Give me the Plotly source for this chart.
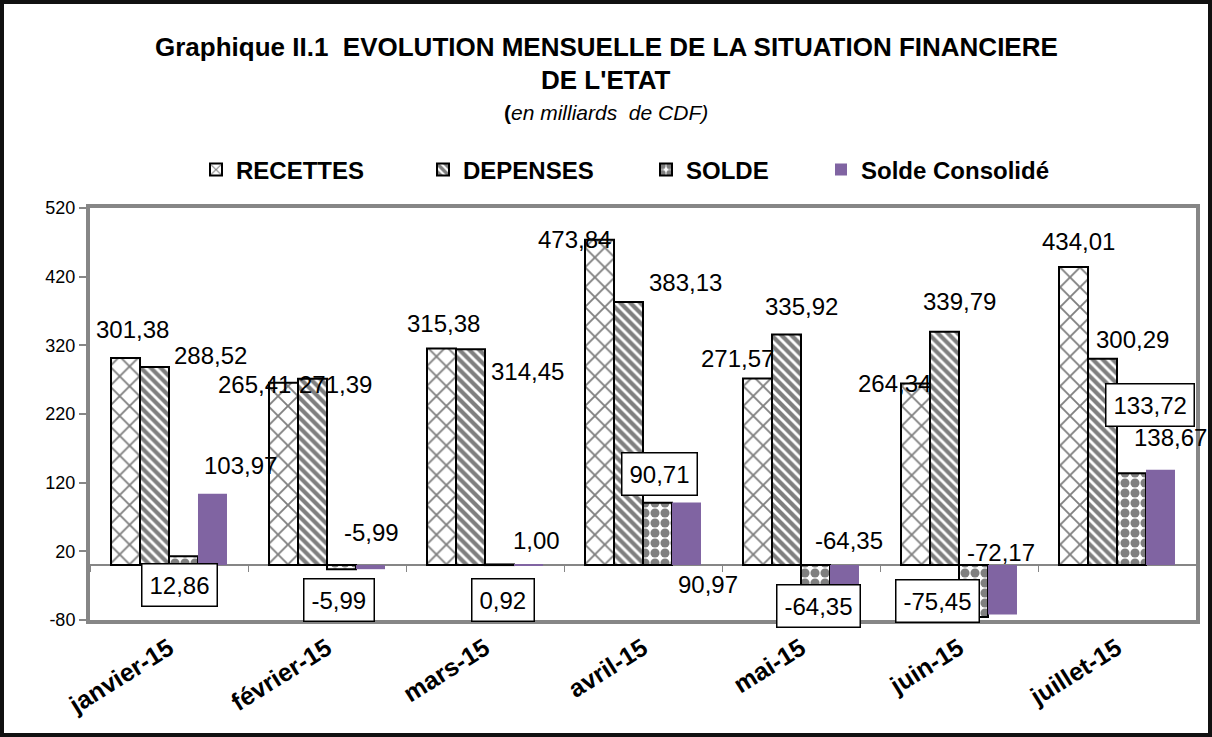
import plotly.graph_objects as go

# data (milliards de CDF)
MOIS = ["janvier-15", "février-15", "mars-15", "avril-15", "mai-15", "juin-15", "juillet-15"]
RECETTES = [301.38, 265.41, 315.38, 473.84, 271.57, 264.34, 434.01]
DEPENSES = [288.52, 271.39, 314.45, 383.13, 335.92, 339.79, 300.29]
SOLDE = [12.86, -5.99, 0.92, 90.71, -64.35, -75.45, 133.72]
SOLDE_CONSO = [103.97, -5.99, 1.00, 90.97, -64.35, -72.17, 138.67]

Y_TICKS = [-80, 20, 120, 220, 320, 420, 520]
Y_TICK_LABELS = ["-80", "20", "120", "220", "320", "420", "520"]

W, H = 1212, 737
M = {"l": 90, "r": 16, "t": 208, "b": 117}
PLOT_W = W - M["l"] - M["r"]
PLOT_H = H - M["t"] - M["b"]

FONT = "Liberation Sans, Arial, sans-serif"
GRAY = "#868686"
PURPLE = "#8064A2"

# label placement: (bar slot offset in px from category centre, dx, dy) -- Excel moved these by hand
SLOT = {"rec": -43, "dep": -14.5, "sol": 14.5, "con": 43}
REC_OFF = [(6, 29), (-30, -2), (1, 25), (-26, 0), (-21, 20), (-22, 0), (4, 26)]
DEP_OFF = [(56, 11), (23, -6), (57, -22), (57, 19), (15, 28), (15, 30), (30, 19)]
SOL_OFF = [(-4, -29), (-3, -31), (3, -36), (2, 29), (3, 3), (-36, 16), (18, 68)]
CON_OFF = [(28, 28), (1, 37), (8, 24), (22, -82), (5, 69), (-1, 62), (10, 32)]


def fr(v):
    return f"{v:.2f}".replace(".", ",")


def px_x(px):
    return (px - M["l"]) / PLOT_W


def px_y(py):
    return (H - M["b"] - py) / PLOT_H


fig = go.Figure()

line_blk = {"color": "black", "width": 2}
fig.add_trace(go.Bar(
    x=MOIS, y=RECETTES, name="RECETTES", legend="legend",
    marker={"color": "white", "line": line_blk,
            "pattern": {"shape": "x", "size": 14, "solidity": 0.25,
                        "fgcolor": "black", "bgcolor": "white"}},
))
fig.add_trace(go.Bar(
    x=MOIS, y=DEPENSES, name="DEPENSES", legend="legend2",
    marker={"color": "white", "line": line_blk,
            "pattern": {"shape": "\\", "size": 7, "solidity": 0.6,
                        "fgcolor": "black", "bgcolor": "white"}},
))
fig.add_trace(go.Bar(
    x=MOIS, y=SOLDE, name="SOLDE", legend="legend3",
    marker={"color": "white", "line": line_blk,
            "pattern": {"shape": ".", "size": 10, "solidity": 0.65,
                        "fgcolor": "black", "bgcolor": "white"}},
))
fig.add_trace(go.Bar(
    x=MOIS, y=SOLDE_CONSO, name="Solde Consolidé", legend="legend4",
    marker={"color": PURPLE, "line": {"width": 0}},
))

# invisible helper so the zero-line axis gets the categories
fig.add_trace(go.Scatter(
    x=MOIS, y=SOLDE, xaxis="x2", mode="markers", marker={"opacity": 0},
    showlegend=False, hoverinfo="skip",
))

lbl_font = {"family": FONT, "size": 24, "color": "black"}
for key, vals, offs in [("rec", RECETTES, REC_OFF), ("dep", DEPENSES, DEP_OFF),
                        ("con", SOLDE_CONSO, CON_OFF)]:
    for m, v, (dx, dy) in zip(MOIS, vals, offs):
        fig.add_annotation(x=m, y=v, text=fr(v), showarrow=False, yanchor="middle",
                           xshift=SLOT[key] + dx, yshift=dy, font=lbl_font)
for m, v, (dx, dy) in zip(MOIS, SOLDE, SOL_OFF):
    fig.add_annotation(x=m, y=v, text=fr(v), showarrow=False, yanchor="middle",
                       xshift=SLOT["sol"] + dx, yshift=dy, font=lbl_font,
                       bgcolor="white", bordercolor="black", borderwidth=1.5,
                       borderpad=7)

# title
title_x = px_x(606)
title_font = {"family": FONT, "size": 26, "color": "black"}
fig.add_annotation(xref="paper", yref="paper", x=title_x, y=px_y(47), yanchor="middle",
                   text="<b>Graphique II.1  EVOLUTION MENSUELLE DE LA SITUATION FINANCIERE</b>",
                   showarrow=False, font=title_font)
fig.add_annotation(xref="paper", yref="paper", x=title_x, y=px_y(80), yanchor="middle",
                   text="<b>DE L'ETAT</b>", showarrow=False, font=title_font)
fig.add_annotation(xref="paper", yref="paper", x=title_x, y=px_y(112), yanchor="middle",
                   text="<b>(</b><i>en milliards  de CDF)</i>",
                   showarrow=False, font={"family": FONT, "size": 21, "color": "black"})

# outer black frame
inset = 2
fig.add_shape(type="rect", xref="paper", yref="paper", layer="above",
              x0=px_x(inset), x1=px_x(W - inset), y0=px_y(H - inset), y1=px_y(inset),
              line={"color": "#111", "width": 4})

leg_font = {"family": FONT, "size": 24, "color": "black", "weight": "bold"}
leg = {"orientation": "h", "yanchor": "middle", "y": px_y(170), "xanchor": "left",
       "font": leg_font, "bgcolor": "rgba(0,0,0,0)", "itemwidth": 30}

cat_range = [-0.5, len(MOIS) - 0.5]

fig.update_layout(
    width=W, height=H, margin=M,
    paper_bgcolor="white", plot_bgcolor="white",
    font={"family": FONT, "color": "black"},
    barmode="group", bargap=0.266, bargroupgap=0,
    legend={**leg, "x": px_x(196)},
    legend2={**leg, "x": px_x(423)},
    legend3={**leg, "x": px_x(646)},
    legend4={**leg, "x": px_x(821)},
    xaxis={
        "type": "category", "range": cat_range,
        "showline": True, "mirror": True, "linecolor": GRAY,
        "linewidth": 4, "ticks": "", "tickangle": -32,
        "tickfont": {"family": FONT, "size": 25, "color": "black", "weight": "bold"},
        "showgrid": False, "zeroline": False,
    },
    xaxis2={
        "overlaying": "x", "matches": "x", "anchor": "free",
        "position": (0 - Y_TICKS[0]) / (Y_TICKS[-1] - Y_TICKS[0]), "side": "bottom",
        "ticks": "outside", "ticklen": 6, "tickcolor": GRAY, "tickwidth": 1,
        "tickson": "boundaries", "showticklabels": False, "showgrid": False,
        "showline": False, "zeroline": False,
    },
    yaxis={
        "range": [Y_TICKS[0], Y_TICKS[-1]],
        "tickvals": Y_TICKS, "ticktext": Y_TICK_LABELS,
        "showline": True, "mirror": True, "linecolor": GRAY, "linewidth": 4,
        "ticks": "outside", "ticklen": 7, "tickcolor": GRAY, "tickwidth": 1.5,
        "tickfont": {"family": FONT, "size": 18, "color": "black"},
        "showgrid": False, "zeroline": True, "zerolinecolor": GRAY, "zerolinewidth": 1.5,
    },
)

# the page body has a default 8px margin; drop it so the figure fills the window
fig.write_html("out.html", config={"displayModeBar": False},
               post_script="document.body.style.margin='0';")
